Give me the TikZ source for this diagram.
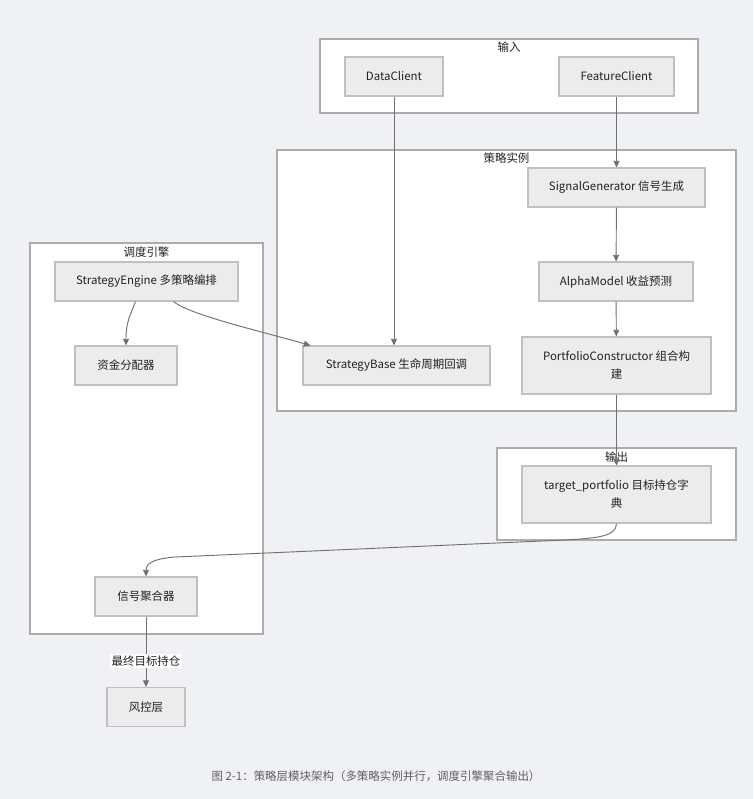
\documentclass[tikz,border=0pt]{standalone}
\usepackage{fontspec}
\setmainfont{Noto Sans CJK SC}
\usetikzlibrary{arrows.meta,calc}
\definecolor{bgcol}{RGB}{240,241,245}
\definecolor{boxfill}{RGB}{236,236,236}
\definecolor{boxline}{RGB}{192,192,192}
\definecolor{grpline}{RGB}{172,172,172}
\definecolor{edgecol}{RGB}{112,112,112}
\definecolor{txtcol}{RGB}{34,34,34}
\definecolor{capcol}{RGB}{96,96,96}

\begin{document}
\begin{tikzpicture}[
		x=0.75pt, y=-0.75pt,
		font=\fontsize{8.6}{13.5}\selectfont,
		module/.style={draw=boxline, fill=boxfill, line width=0.8pt, text=txtcol,
			inner xsep=6pt, minimum height=29.25pt, align=center},
		group/.style={draw=grpline, fill=white, line width=0.8pt},
		title/.style={inner sep=0pt, text=txtcol},
		flow/.style={draw=edgecol, line width=0.7pt, -{Triangle[length=5pt,width=4.5pt]}}
	]
	\fill[bgcol] (0,0) rectangle (753,799);
	\useasboundingbox (0,0) rectangle (753,799);

	\draw[group] (320,39) rectangle (698,113);
	\node[title] (inTitle) at (509,47) {输入};
	\draw[group] (277,150) rectangle (736,411);
	\node[title] (instTitle) at (506.5,158) {策略实例};
	\draw[group] (30,243) rectangle (263,634);
	\node[title] (engTitle) at (146.5,252) {调度引擎};
	\draw[group] (497,448) rectangle (736,540);
	\node[title] (outTitle) at (616.5,457) {输出};

	\node[module, minimum width=73.5pt] (data) at (394,76.5) {DataClient};
	\node[module, minimum width=86.25pt] (feat) at (616.5,76.5) {FeatureClient};
	\node[module, minimum width=132.75pt] (signal) at (616.5,187.5) {SignalGenerator 信号生成};
	\node[module, minimum width=115.5pt] (alpha) at (616,281.5) {AlphaModel 收益预测};
	\node[module, minimum width=141.75pt, minimum height=42.75pt] (pc) at (616.5,365.5) {PortfolioConstructor 组合构\\建};
	\node[module, minimum width=140.25pt] (base) at (396.5,365.5) {StrategyBase 生命周期回调};
	\node[module, minimum width=137.25pt] (eng) at (146.5,281.5) {StrategyEngine 多策略编排};
	\node[module, minimum width=76.5pt] (alloc) at (126,365.5) {资金分配器};
	\node[module, minimum width=141.75pt, minimum height=42.75pt] (target) at (616.5,494.5) {target\_portfolio 目标持仓字\\典};
	\node[module, minimum width=76.5pt] (agg) at (146,596.5) {信号聚合器};
	\node[module, minimum width=58.5pt] (risk) at (146,707) {风控层};

	\draw[flow] (data.south) -- (data.south |- base.north);
	\draw[flow] (feat) -- (signal);
	\draw[flow] (signal) -- (alpha);
	\draw[flow] (alpha) -- (pc);
	\draw[flow] (pc) -- (target);
	\draw[flow] ($(eng.south)+(-11,0)$) .. controls (130,316) and (126,322) .. (alloc.north);
	\draw[flow] ($(eng.south)+(27,0)$) .. controls (190,315) and (260,331) .. ($(base.north west)+(8,0)$);
	\draw[flow] (target.south) .. controls (616,536) and (600,538) .. (565,540)
		-- (175,557) .. controls (150,559) and (146,565) .. (agg.north);
	\draw[flow] (agg) -- node[pos=0.63, fill=white, inner sep=1.5pt, text=txtcol] (holdLbl) {最终目标持仓} (risk);

	\node[text=capcol] (caption) at (376,776) {图 2-1：策略层模块架构（多策略实例并行，调度引擎聚合输出）};
\end{tikzpicture}
\end{document}
